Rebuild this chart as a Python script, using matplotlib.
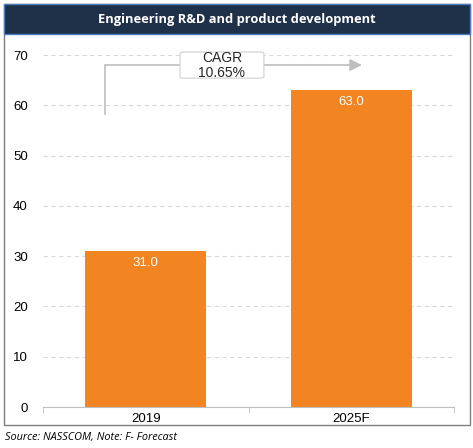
import matplotlib
matplotlib.use("Agg")
import matplotlib.pyplot as plt
from matplotlib.patches import Rectangle, FancyBboxPatch

# data
categories = ["2019", "2025F"]
values = [31.0, 63.0]
cagr_lines = ["CAGR", "10.65%"]
title = "Engineering R&D and product development"
source = "Source: NASSCOM, Note: F- Forecast"

W, H = 473, 448
fig = plt.figure(figsize=(W / 100, H / 100), dpi=100)

# outer frame
fig.patches.append(Rectangle((4 / W, 1 - 425 / H), 466 / W, 421 / H,
                             transform=fig.transFigure, facecolor="white",
                             edgecolor="#7f7f7f", linewidth=1.0, zorder=-2))
# title bar
fig.patches.append(Rectangle((4 / W, 1 - 34 / H), 466 / W, 30 / H,
                             transform=fig.transFigure, facecolor="#1f3049",
                             edgecolor="#4a7ebb", linewidth=1.0, zorder=-1))
fig.text(237 / W, 1 - 19 / H, title, color="white", fontsize=9.3,
         fontweight="bold", family="Open Sans", ha="center", va="center")

ax = fig.add_axes([43 / W, 1 - 407 / H, 411 / W, 352 / H])
ax.set_zorder(2)
ax.set_facecolor("none")
x = list(range(len(categories)))
ax.bar(x, values, width=0.59, color="#f28522", zorder=2)
for xi, v in zip(x, values):
    ax.text(xi, v - 2.4, f"{v:.1f}", color="white", ha="center", va="center",
            fontsize=9.5, family="Liberation Sans", zorder=3)

ax.set_xlim(-0.5, 1.5)
ax.set_ylim(0, 70)
ax.set_yticks(range(0, 71, 10))
ax.set_xticks(x)
ax.set_xticklabels(categories, family="Liberation Sans", fontsize=9.5)
for lab in ax.get_yticklabels():
    lab.set_family("Liberation Sans")
    lab.set_fontsize(9.5)
ax.yaxis.grid(True, color="#d9d9d9", linestyle=(0, (4, 3)), linewidth=0.8)
ax.set_axisbelow(True)
for s in ["top", "right", "left"]:
    ax.spines[s].set_visible(False)
ax.spines["bottom"].set_color("#bfbfbf")
ax.tick_params(axis="y", length=0, pad=11)
ax.tick_params(axis="x", length=0, pad=4)
# minor ticks at category boundaries
ax.set_xticks([-0.5, 0.5, 1.5], minor=True)
ax.tick_params(axis="x", which="minor", length=4, color="#bfbfbf", direction="out")

# CAGR arrow
ax.plot([-0.198, -0.198, 1.0], [58.3, 68, 68], color="#bfbfbf", linewidth=1.2,
        zorder=3, solid_joinstyle="miter", clip_on=False)
ax.annotate("", xy=(1.052, 68), xytext=(1.0, 68),
            arrowprops=dict(arrowstyle="-|>,head_length=0.6,head_width=0.3",
                            color="#bfbfbf", lw=1.2, mutation_scale=12,
                            shrinkA=0, shrinkB=0), zorder=3)
ax.add_patch(FancyBboxPatch((0.167, 65.4), 0.575 - 0.167, 70.6 - 65.4,
                            boxstyle="round,pad=0,rounding_size=0.03",
                            mutation_aspect=6, facecolor="white",
                            edgecolor="#d0d0d0", linewidth=0.8, zorder=4,
                            clip_on=False))
ax.text(0.371, 69.4, cagr_lines[0], ha="center", va="center", fontsize=10,
        family="Liberation Sans", color="#262626", zorder=5)
ax.text(0.371, 66.4, cagr_lines[1], ha="center", va="center", fontsize=10,
        family="Liberation Sans", color="#262626", zorder=5)

fig.text(5 / W, 1 - 437 / H, source, fontsize=7.8, style="italic",
         family="Open Sans", ha="left", va="center", color="#000000")

fig.savefig("out.png", dpi=100)
